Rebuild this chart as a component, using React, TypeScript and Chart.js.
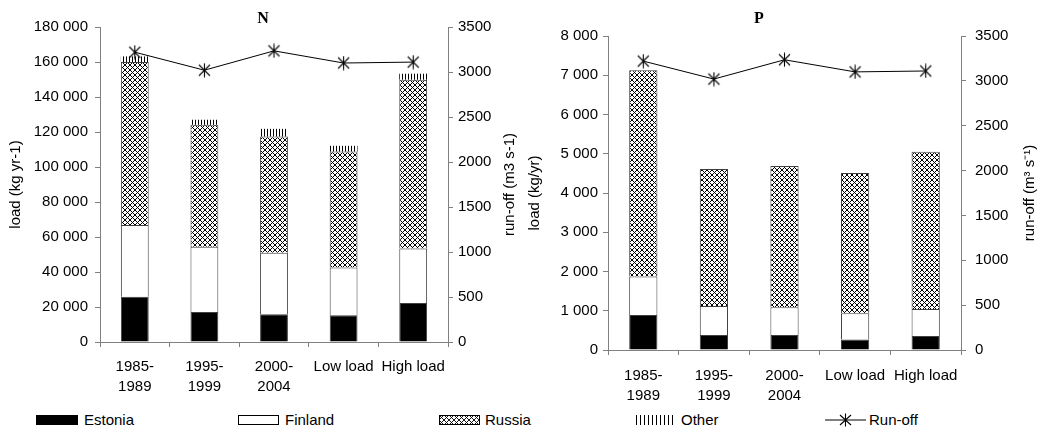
import React, { useEffect, useRef } from "react";
import { Chart, registerables } from "chart.js";

Chart.register(...registerables);

// ---------- data ----------
const categories: (string | string[])[] = [
  ["1985-", "1989"],
  ["1995-", "1999"],
  ["2000-", "2004"],
  "Low load",
  "High load",
];

const nEstonia = [25800, 17200, 15900, 15300, 22300];
const nFinland = [41000, 37200, 35100, 27300, 31200];
const nRussia = [93200, 69700, 66400, 66200, 96400];
const nOther = [3200, 2900, 4400, 3300, 3400];

const pEstonia = [890, 380, 380, 270, 355];
const pFinland = [980, 740, 710, 665, 690];
const pRussia = [5260, 3490, 3600, 3575, 4005];
const pOther = [0, 0, 0, 0, 0];

const runoff = [3220, 3020, 3235, 3100, 3110];

const nTicks = { max: 180000, step: 20000 };
const pTicks = { max: 8000, step: 1000 };
const runoffTicks = { max: 3500, step: 500 };

// ---------- helpers ----------
const FONT = '"Liberation Sans", Arial, sans-serif';
const AXIS = "#808080";

function spaced(v: number | string): string {
  return String(v).replace(/\B(?=(\d{3})+(?!\d))/g, " ");
}

function makeCrossHatch(ctx: CanvasRenderingContext2D): CanvasPattern {
  const c = document.createElement("canvas");
  c.width = 5;
  c.height = 5;
  const g = c.getContext("2d")!;
  g.fillStyle = "#fff";
  g.fillRect(0, 0, 5, 5);
  g.fillStyle = "#000";
  for (let i = 0; i < 5; i++) {
    g.fillRect(i, i, 1, 1);
    g.fillRect(4 - i, i, 1, 1);
  }
  return ctx.createPattern(c, "repeat")!;
}

function makeStripes(ctx: CanvasRenderingContext2D): CanvasPattern {
  const c = document.createElement("canvas");
  c.width = 3;
  c.height = 4;
  const g = c.getContext("2d")!;
  g.fillStyle = "#fff";
  g.fillRect(0, 0, 3, 4);
  g.fillStyle = "#000";
  g.fillRect(0, 0, 1, 4);
  return ctx.createPattern(c, "repeat")!;
}

function makeStar(): HTMLCanvasElement {
  const c = document.createElement("canvas");
  c.width = 15;
  c.height = 15;
  const g = c.getContext("2d")!;
  g.strokeStyle = "#000";
  g.lineWidth = 1.1;
  g.beginPath();
  g.moveTo(7.5, 0.5);
  g.lineTo(7.5, 14.5);
  g.moveTo(2, 2);
  g.lineTo(13, 13);
  g.moveTo(13, 2);
  g.lineTo(2, 13);
  g.stroke();
  return c;
}

const rightTitlePlugin = {
  id: "rightTitle",
  afterDraw(chart: any, _args: any, opts: any) {
    const s = chart.scales.y1;
    if (!s || !opts || !opts.text) return;
    const ctx = chart.ctx as CanvasRenderingContext2D;
    ctx.save();
    ctx.translate(s.left + opts.offset, (s.top + s.bottom) / 2);
    ctx.rotate(-Math.PI / 2);
    ctx.font = `15px ${FONT}`;
    ctx.fillStyle = "#000";
    ctx.textAlign = "center";
    ctx.textBaseline = "middle";
    ctx.fillText(opts.text, 0, 0);
    ctx.restore();
  },
};

type PanelCfg = {
  left: number;
  width: number;
  height: number;
  top: number;
  xHeight: number;
  xPad: number;
  yWidth: number;
  y1Width: number;
  yPad: number;
  y1Pad: number;
  yTitle: string;
  yTitlePad: number;
  y1Title: string;
  y1TitleOffset: number;
};

function Panel(props: {
  estonia: number[];
  finland: number[];
  russia: number[];
  other: number[];
  run: number[];
  ticks: { max: number; step: number };
  cfg: PanelCfg;
}) {
  const ref = useRef<HTMLCanvasElement>(null);
  const { estonia, finland, russia, other, run, ticks, cfg } = props;

  useEffect(() => {
    const ctx = ref.current!.getContext("2d")!;
    const hatch = makeCrossHatch(ctx);
    const stripes = makeStripes(ctx);
    const star = makeStar();
    const tickFont = { family: FONT, size: 15 };

    const chart = new Chart(ctx, {
      type: "bar",
      data: {
        labels: categories as any,
        datasets: [
          {
            type: "line",
            label: "Run-off",
            data: run,
            yAxisID: "y1",
            borderColor: "#000",
            borderWidth: 1,
            pointStyle: star as any,
            pointRadius: 7,
            fill: false,
            tension: 0,
            order: 0,
          } as any,
          {
            label: "Estonia",
            data: estonia,
            backgroundColor: "#000",
            borderColor: "#404040",
            borderWidth: 1,
            yAxisID: "y",
            order: 1,
          },
          {
            label: "Finland",
            data: finland,
            backgroundColor: "#fff",
            borderColor: "#404040",
            borderWidth: 1,
            yAxisID: "y",
            order: 1,
          },
          {
            label: "Russia",
            data: russia,
            backgroundColor: hatch as any,
            borderColor: "#404040",
            borderWidth: 1,
            yAxisID: "y",
            order: 1,
          },
          {
            label: "Other",
            data: other,
            backgroundColor: stripes as any,
            borderWidth: 0,
            yAxisID: "y",
            order: 1,
          },
        ],
      },
      options: {
        animation: false,
        responsive: false,
        maintainAspectRatio: false,
        datasets: {
          bar: { barPercentage: 0.4, categoryPercentage: 1 },
        },
        layout: { padding: { top: cfg.top, left: 0, right: 0, bottom: 0 } },
        plugins: {
          legend: { display: false },
          tooltip: { enabled: false },
          rightTitle: { text: cfg.y1Title, offset: cfg.y1TitleOffset },
        } as any,
        scales: {
          x: {
            stacked: true,
            grid: {
              drawOnChartArea: false,
              drawTicks: true,
              tickLength: 5,
              color: AXIS,
              offset: true,
            },
            border: { color: AXIS, width: 1 },
            ticks: {
              font: { ...tickFont, lineHeight: 1.33 },
              color: "#000",
              padding: cfg.xPad,
              maxRotation: 0,
              autoSkip: false,
            },
            afterFit: (s: any) => {
              s.height = cfg.xHeight;
            },
          },
          y: {
            stacked: true,
            position: "left",
            min: 0,
            max: ticks.max,
            grid: {
              drawOnChartArea: false,
              drawTicks: true,
              tickLength: 5,
              color: AXIS,
            },
            border: { color: AXIS, width: 1 },
            ticks: {
              stepSize: ticks.step,
              font: tickFont,
              color: "#000",
              padding: cfg.yPad,
              callback: (v: any) => spaced(v),
            },
            title: {
              display: true,
              text: cfg.yTitle,
              font: { family: FONT, size: 15 },
              color: "#000",
              padding: { top: cfg.yTitlePad, bottom: 0 },
            },
            afterFit: (s: any) => {
              s.width = cfg.yWidth;
            },
          },
          y1: {
            position: "right",
            min: 0,
            max: runoffTicks.max,
            grid: {
              drawOnChartArea: false,
              drawTicks: true,
              tickLength: 5,
              color: AXIS,
            },
            border: { color: AXIS, width: 1 },
            ticks: {
              stepSize: runoffTicks.step,
              font: tickFont,
              color: "#000",
              padding: cfg.y1Pad,
              callback: (v: any) => String(v),
            },
            afterFit: (s: any) => {
              s.width = cfg.y1Width;
            },
          },
        } as any,
      },
      plugins: [rightTitlePlugin as any],
    });
    return () => chart.destroy();
  }, []);

  return (
    <canvas
      ref={ref}
      width={cfg.width}
      height={cfg.height}
      style={{
        position: "absolute",
        left: cfg.left,
        top: 0,
        width: cfg.width,
        height: cfg.height,
      }}
    />
  );
}

function Swatch({ kind }: { kind: string }) {
  if (kind === "Estonia")
    return (
      <svg width={42} height={10}>
        <rect x={0.5} y={0.5} width={41} height={9} fill="#000" stroke="#000" />
      </svg>
    );
  if (kind === "Finland")
    return (
      <svg width={42} height={10}>
        <rect x={0.5} y={0.5} width={40} height={9} fill="#fff" stroke="#000" />
      </svg>
    );
  if (kind === "Russia")
    return (
      <svg width={42} height={10}>
        <defs>
          <pattern id="lgx" width={5} height={5} patternUnits="userSpaceOnUse">
            <rect width={5} height={5} fill="#fff" />
            <path d="M0,0 L5,5 M5,0 L0,5" stroke="#000" strokeWidth={0.9} />
          </pattern>
        </defs>
        <rect x={0.5} y={0.5} width={40} height={9} fill="url(#lgx)" stroke="#000" />
      </svg>
    );
  if (kind === "Other")
    return (
      <svg width={42} height={10}>
        <defs>
          <pattern id="lgs" width={4} height={10} patternUnits="userSpaceOnUse">
            <rect width={4} height={10} fill="#fff" />
            <rect x={0} width={1} height={10} fill="#000" />
          </pattern>
        </defs>
        <rect x={0} y={0} width={40} height={10} fill="url(#lgs)" />
      </svg>
    );
  return (
    <svg width={42} height={14}>
      <line x1={0} y1={7} x2={41} y2={7} stroke="#000" strokeWidth={1} />
      <path d="M20.5,0.5 L20.5,13.5 M15,2 L26,12 M26,2 L15,12" stroke="#000" strokeWidth={1.1} />
    </svg>
  );
}

const legendItems = [
  { label: "Estonia", x: 36, gap: 6 },
  { label: "Finland", x: 238, gap: 5 },
  { label: "Russia", x: 439, gap: 4 },
  { label: "Other", x: 636, gap: 3 },
  { label: "Run-off", x: 825, gap: 2 },
];

export default function App() {
  const leftCfg: PanelCfg = {
    left: 0,
    width: 522,
    height: 400,
    top: 27,
    xHeight: 58,
    xPad: 10,
    yWidth: 100,
    y1Width: 74,
    yPad: 7,
    y1Pad: 5,
    yTitle: "load (kg yr-1)",
    yTitlePad: 7,
    y1Title: "run-off (m3 s-1)",
    y1TitleOffset: 62,
  };
  const rightCfg: PanelCfg = {
    left: 522,
    width: 528,
    height: 405,
    top: 36,
    xHeight: 55,
    xPad: 11,
    yWidth: 86,
    y1Width: 89,
    yPad: 5,
    y1Pad: 9,
    yTitle: "load (kg/yr)",
    yTitlePad: 4,
    y1Title: "run-off (m\u00B3 s\u207B\u00B9)",
    y1TitleOffset: 69,
  };

  return (
    <div
      style={{
        position: "absolute",
        left: 0,
        top: 0,
        width: 1056,
        height: 433,
        background: "#fff",
        fontFamily: FONT,
      }}
    >
      <Panel
        estonia={nEstonia}
        finland={nFinland}
        russia={nRussia}
        other={nOther}
        run={runoff}
        ticks={nTicks}
        cfg={leftCfg}
      />
      <Panel
        estonia={pEstonia}
        finland={pFinland}
        russia={pRussia}
        other={pOther}
        run={runoff}
        ticks={pTicks}
        cfg={rightCfg}
      />
      <div
        style={{
          position: "absolute",
          left: 263,
          top: 9,
          transform: "translateX(-50%)",
          font: 'bold 16px "Liberation Serif", serif',
          lineHeight: "18px",
        }}
      >
        N
      </div>
      <div
        style={{
          position: "absolute",
          left: 759,
          top: 9,
          transform: "translateX(-50%)",
          font: 'bold 16px "Liberation Serif", serif',
          lineHeight: "18px",
        }}
      >
        P
      </div>
      {legendItems.map((it) => (
        <div
          key={it.label}
          style={{
            position: "absolute",
            left: it.x,
            top: 411,
            height: 18,
            display: "flex",
            alignItems: "center",
            fontSize: 15,
            lineHeight: "18px",
            whiteSpace: "nowrap",
          }}
        >
          <Swatch kind={it.label} />
          <span style={{ marginLeft: it.gap }}>{it.label}</span>
        </div>
      ))}
    </div>
  );
}
